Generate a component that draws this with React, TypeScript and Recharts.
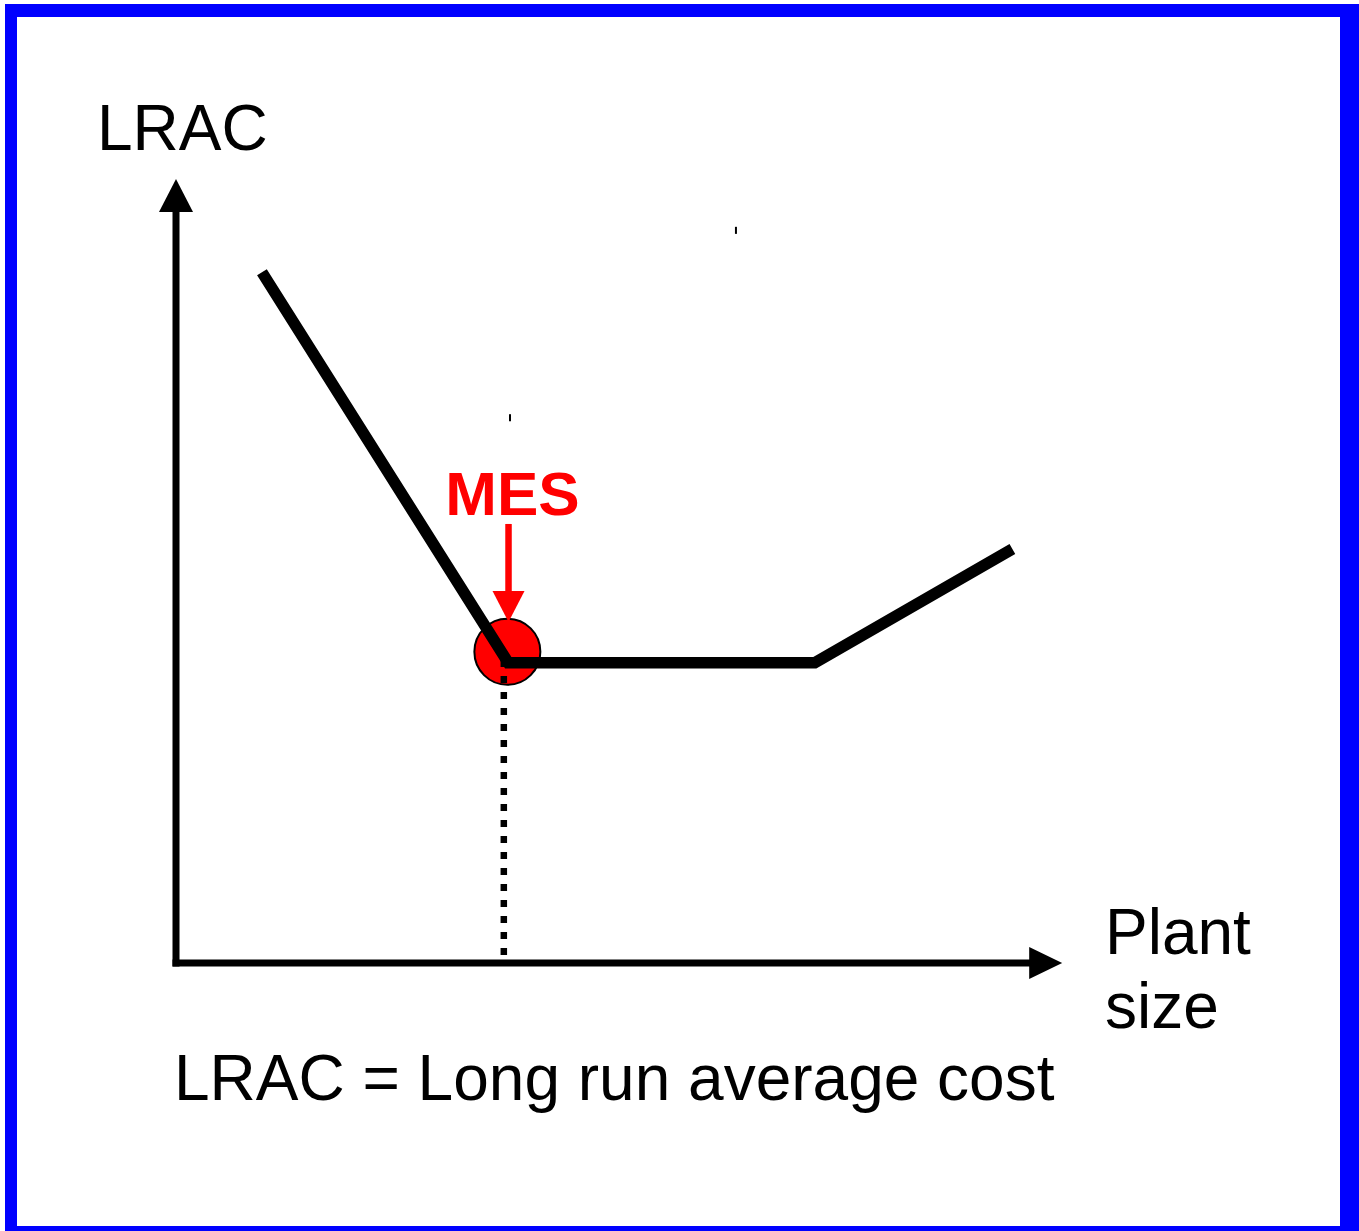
import React from 'react';
import { LineChart, Line, XAxis, YAxis, ReferenceDot, ReferenceLine } from 'recharts';

// LRAC curve: plant size (x) vs long run average cost (y), both on a 0-100 scale
const plantSize = [9.7, 37.5, 72.1, 94.4];
const lracCost = [88.1, 38.3, 38.3, 52.8];

// Minimum efficient scale marker
const mesPoint = { x: 37.4, y: 39.7 };
const mesDropX = 37.0;
const mesDropTop = 38.65;
const mesArrowX = 37.53;
const mesArrowFrom = 56.0;
const mesArrowTo = 47.45;
const mesLabelPos = { x: 37.98, y: 57.14 };

// Axis extents (shaft ends; arrowheads follow)
const yAxisTop = 95.8;
const xAxisEnd = 96.3;

// Text labels
const yAxisLabel = 'LRAC';
const xAxisLabelLines = ['Plant', 'size'];
const mesLabel = 'MES';
const footnote = 'LRAC = Long run average cost';
const yLabelPos = { x: -8.92, y: 103.7 };
const xLabelPos = { x: 104.85, y: 1.15 };
const footnotePos = { x: -0.23, y: -17.47 };

// small stray ticks in the original
const strayTicks = [
  { x: 63.2, y1: 93.9, y2: 93.0 },
  { x: 37.7, y1: 70.0, y2: 69.1 },
];

const curveData = plantSize.map((x, i) => ({ x, y: lracCost[i] }));
const yAxisData = [{ x: 0, y: 0 }, { x: 0, y: yAxisTop }];
const xAxisData = [{ x: 0, y: 0 }, { x: xAxisEnd, y: 0 }];
const dropData = [{ x: mesDropX, y: mesDropTop }, { x: mesDropX, y: 0 }];
const arrowData = [{ x: mesArrowX, y: mesArrowFrom }, { x: mesArrowX, y: mesArrowTo }];
const circleData = [mesPoint];

const FONT = '"Liberation Sans", Arial, Helvetica, sans-serif';

const upHead = (p: any) =>
  p.index === 1 ? (
    <polygon key={`u${p.index}`} points={`${p.cx - 17},${p.cy} ${p.cx + 17},${p.cy} ${p.cx},${p.cy - 33}`} fill="#000" />
  ) : (
    <g key={`u${p.index}`} />
  );

const rightHead = (p: any) =>
  p.index === 1 ? (
    <polygon key={`r${p.index}`} points={`${p.cx},${p.cy - 16} ${p.cx},${p.cy + 16} ${p.cx + 33},${p.cy}`} fill="#000" />
  ) : (
    <g key={`r${p.index}`} />
  );

const downHeadRed = (p: any) =>
  p.index === 1 ? (
    <polygon key={`d${p.index}`} points={`${p.cx - 16},${p.cy} ${p.cx + 16},${p.cy} ${p.cx},${p.cy + 31}`} fill="#ff0000" />
  ) : (
    <g key={`d${p.index}`} />
  );

const mesCircle = (p: any) => (
  <circle key={`c${p.index}`} cx={p.cx} cy={p.cy} r={33} fill="#ff0000" stroke="#000" strokeWidth={2} />
);

export default function App() {
  return (
    <div style={{ position: 'absolute', left: 0, top: 0, width: 1359, height: 1231, background: '#fff', overflow: 'hidden' }}>
      <div
        style={{
          position: 'absolute',
          left: 5,
          top: 4,
          width: 1354,
          height: 1227,
          boxSizing: 'border-box',
          borderStyle: 'solid',
          borderColor: '#0000ff',
          borderLeftWidth: 12,
          borderTopWidth: 13,
          borderRightWidth: 19,
          borderBottomWidth: 5,
          background: '#fff',
        }}
      />
      <div style={{ position: 'absolute', left: 0, top: 0 }}>
        <LineChart width={1359} height={1231} margin={{ top: 179, right: 297, bottom: 268, left: 176 }}>
          <XAxis type="number" dataKey="x" domain={[0, 100]} hide />
          <YAxis type="number" dataKey="y" domain={[0, 100]} hide />

          <Line data={circleData} dataKey="y" stroke="none" dot={mesCircle} isAnimationActive={false} {...({ zIndex: 100 } as any)} />

          <Line data={yAxisData} dataKey="y" stroke="#000" strokeWidth={7} strokeLinecap="square" dot={upHead} isAnimationActive={false} />
          <Line data={xAxisData} dataKey="y" stroke="#000" strokeWidth={7} strokeLinecap="square" dot={rightHead} isAnimationActive={false} />

          <Line data={dropData} dataKey="y" stroke="#000" strokeWidth={6.5} strokeDasharray="7 9" dot={false} isAnimationActive={false} {...({ zIndex: 700 } as any)} />
          <Line data={curveData} dataKey="y" type="linear" stroke="#000" strokeWidth={11.5} strokeLinejoin="miter" strokeLinecap="butt" dot={false} isAnimationActive={false} {...({ zIndex: 700 } as any)} />
          <Line data={arrowData} dataKey="y" stroke="#ff0000" strokeWidth={6.5} dot={downHeadRed} isAnimationActive={false} />

          {strayTicks.map((t, i) => (
            <ReferenceLine key={`t${i}`} segment={[{ x: t.x, y: t.y1 }, { x: t.x, y: t.y2 }]} stroke="#000" strokeWidth={2} ifOverflow="visible" />
          ))}

          <ReferenceDot
            x={mesLabelPos.x}
            y={mesLabelPos.y}
            ifOverflow="visible"
            shape={(p: any) => (
              <text x={p.cx} y={p.cy} textAnchor="middle" fill="#ff0000" fontFamily={FONT} fontWeight="bold" fontSize={62}>
                {mesLabel}
              </text>
            )}
          />
          <ReferenceDot
            x={yLabelPos.x}
            y={yLabelPos.y}
            ifOverflow="visible"
            shape={(p: any) => (
              <text x={p.cx} y={p.cy} fill="#000" fontFamily={FONT} fontSize={64}>
                {yAxisLabel}
              </text>
            )}
          />
          <ReferenceDot
            x={xLabelPos.x}
            y={xLabelPos.y}
            ifOverflow="visible"
            shape={(p: any) => (
              <text x={p.cx} y={p.cy} fill="#000" fontFamily={FONT} fontSize={64}>
                {xAxisLabelLines.map((s, i) => (
                  <tspan key={s} x={p.cx} dy={i === 0 ? 0 : 74}>
                    {s}
                  </tspan>
                ))}
              </text>
            )}
          />
          <ReferenceDot
            x={footnotePos.x}
            y={footnotePos.y}
            ifOverflow="visible"
            shape={(p: any) => (
              <text x={p.cx} y={p.cy} fill="#000" fontFamily={FONT} fontSize={64}>
                {footnote}
              </text>
            )}
          />
        </LineChart>
      </div>
    </div>
  );
}
